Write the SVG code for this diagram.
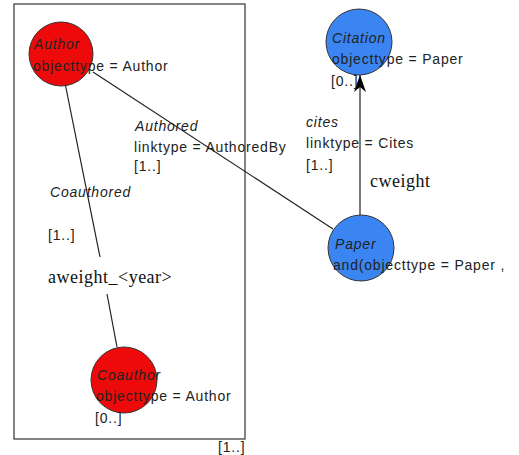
<svg xmlns="http://www.w3.org/2000/svg" width="519" height="455" viewBox="0 0 519 455">
<defs>
<style>
.t{font-family:"Liberation Sans",Arial,sans-serif;font-size:14px;letter-spacing:0.8px;fill:#222}
.i{font-style:italic}
.s{font-family:"Liberation Serif","Times New Roman",serif;font-size:18px;letter-spacing:0.5px;fill:#111}
.red{fill:#ee0a0a;stroke:#333;stroke-width:1}
.blue{fill:#3a85f2;stroke:#333;stroke-width:1}
.edge{stroke:#222;stroke-width:1.2;fill:none}
</style>
<marker id="arr" viewBox="0 0 18 14" refX="17" refY="7" markerWidth="18" markerHeight="14" markerUnits="userSpaceOnUse" orient="auto">
<path d="M17,7 L0,1 L5,7 L0,13 Z" fill="#000"/>
</marker>
</defs>
<rect x="0" y="0" width="519" height="455" fill="#fff"/>
<g id="container">
<rect x="14" y="4" width="231" height="435" fill="none" stroke="#333" stroke-width="1.2"/>
<text class="t" x="218" y="452">[1..]</text>
</g>
<g id="connectors">
<line class="edge" x1="65" y1="83" x2="100" y2="257"/>
<line class="edge" x1="107" y1="294" x2="117" y2="347"/>
<line class="edge" x1="93" y1="72" x2="333" y2="229"/>
<path class="edge" d="M360,215 L360,75" marker-end="url(#arr)"/>
<g id="label-coauthored">
<text class="t i" x="50" y="197">Coauthored</text>
<text class="t" x="48" y="240">[1..]</text>
<text class="s" x="48" y="283">aweight_&lt;year&gt;</text>
</g>
<g id="label-authored">
<text class="t i" x="135" y="131">Authored</text>
<text class="t" x="134" y="152">linktype = AuthoredBy</text>
<text class="t" x="134" y="171">[1..]</text>
</g>
<g id="label-cites">
<text class="t i" x="306" y="127">cites</text>
<text class="t" x="306" y="148">linktype = Cites</text>
<text class="t" x="306" y="170">[1..]</text>
<text class="s" x="370" y="187">cweight</text>
</g>
</g>
<g id="author">
<circle class="red" cx="61" cy="54" r="32"/>
<text class="t i" x="34" y="49">Author</text>
<text class="t" x="33" y="71">objecttype = Author</text>
</g>
<g id="coauthor">
<circle class="red" cx="124" cy="380" r="33"/>
<text class="t i" x="97" y="380">Coauthor</text>
<text class="t" x="96" y="401">objecttype = Author</text>
<text class="t" x="95" y="423">[0..]</text>
</g>
<g id="citation">
<circle class="blue" cx="359" cy="42" r="33"/>
<text class="t i" x="332" y="43">Citation</text>
<text class="t" x="332" y="64">objecttype = Paper</text>
<text class="t" x="331" y="86">[0..]</text>
</g>
<g id="paper">
<circle class="blue" cx="361" cy="248" r="33"/>
<text class="t i" x="335" y="249">Paper</text>
<text class="t" x="333" y="270">and(objecttype = Paper , </text>
</g>
</svg>
